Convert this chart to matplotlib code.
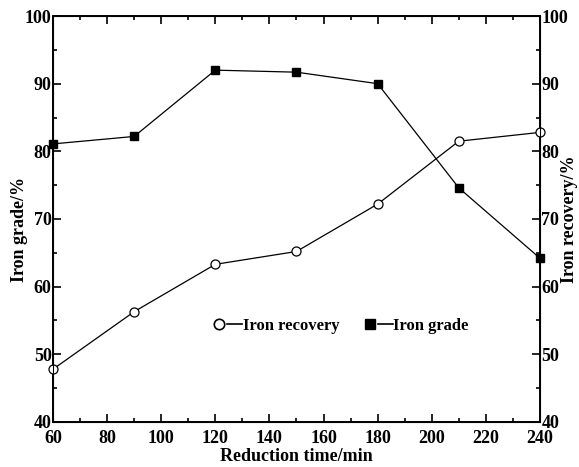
import matplotlib
matplotlib.use('Agg')
import matplotlib.pyplot as plt
from matplotlib.lines import Line2D
from matplotlib.legend_handler import HandlerTuple
from matplotlib.ticker import MultipleLocator

time = [60, 90, 120, 150, 180, 210, 240]
grade = [81.1, 82.2, 92.0, 91.7, 90.0, 74.6, 64.2]
recovery = [47.8, 56.3, 63.3, 65.2, 72.2, 81.5, 82.8]

plt.rcParams['font.family'] = 'Liberation Serif'
plt.rcParams['font.weight'] = 'bold'
plt.rcParams['font.size'] = 13

fig = plt.figure(figsize=(5.79, 4.67), dpi=100)
ax = fig.add_axes([0.0915, 0.0964, 0.8411, 0.8693])

ax.plot(time, recovery, '-o', color='black', lw=0.9, ms=6.5,
        mfc='white', mec='black', mew=0.9, clip_on=False, zorder=3)
ax.plot(time, grade, '-s', color='black', lw=0.9, ms=6,
        mfc='black', mec='black', clip_on=False, zorder=3)

ax.set_xlim(60, 240)
ax.set_ylim(40, 100)
ax.xaxis.set_major_locator(MultipleLocator(20))
ax.xaxis.set_minor_locator(MultipleLocator(10))
ax.yaxis.set_major_locator(MultipleLocator(10))
ax.yaxis.set_minor_locator(MultipleLocator(5))
ax.tick_params(which='both', direction='in', top=True, right=False, width=1.2)
ax.tick_params(which='major', length=6)
ax.tick_params(which='minor', length=3)
ax.tick_params(axis='y', pad=1)
ax.tick_params(axis='x', pad=6)
for s in ax.spines.values():
    s.set_linewidth(1.4)

ax.set_xlabel('Reduction time/min', fontweight='bold')
ax.xaxis.set_label_coords(0.5, -0.064)
ax.set_ylabel('Iron grade/%', fontweight='bold')
ax.yaxis.set_label_coords(-0.052, 0.475)

ax2 = ax.twinx()
ax2.set_ylim(40, 100)
ax2.yaxis.set_major_locator(MultipleLocator(10))
ax2.yaxis.set_minor_locator(MultipleLocator(5))
ax2.tick_params(which='both', direction='in', width=1.2, pad=1)
ax2.tick_params(which='major', length=6)
ax2.tick_params(which='minor', length=3)
ax2.set_ylabel('Iron recovery/%', fontweight='bold', rotation=90)
ax2.yaxis.set_label_coords(1.043, 0.5)

h_rec = (Line2D([], [], marker='o', ls='none', mfc='white', mec='black', ms=7.5, mew=1.2),
         Line2D([], [], color='black', lw=1.2))
h_gr = (Line2D([], [], marker='s', ls='none', mfc='black', mec='black', ms=7.5),
        Line2D([], [], color='black', lw=1.2))
ax.legend([h_rec, h_gr], ['Iron recovery', 'Iron grade'],
          handler_map={tuple: HandlerTuple(ndivide=2, pad=0)},
          ncol=2, frameon=False, loc='center', bbox_to_anchor=(0.59, 0.236),
          handlelength=1.8, handletextpad=0.05, columnspacing=1.4,
          prop={'size': 12, 'weight': 'bold'})

fig.savefig('out.png', dpi=100)
